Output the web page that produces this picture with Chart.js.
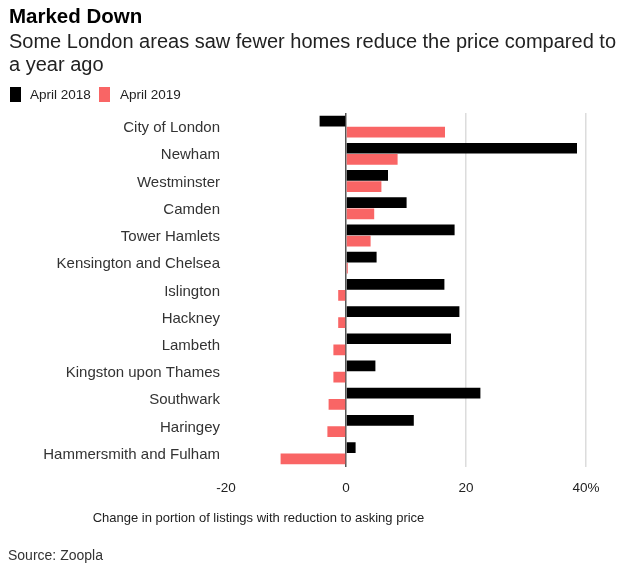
<!DOCTYPE html>
<html><head><meta charset="utf-8">
<script src="https://cdn.jsdelivr.net/npm/chart.js@4"></script>
<style>
html,body{margin:0;padding:0;background:#fff;}
#wrap{position:relative;width:635px;height:573px;font-family:"Liberation Sans",Arial,sans-serif;}
#wrap canvas{position:absolute;left:0;top:0;}
.t{position:absolute;white-space:nowrap;}
#title{left:9px;top:4px;font-size:20.5px;font-weight:bold;line-height:24px;color:#000;}
#sub{left:9px;top:30px;font-size:20px;line-height:23px;color:#222;}
.box{position:absolute;top:87px;width:11px;height:15px;}
.leg{top:87px;font-size:13.5px;line-height:16px;color:#222;}
#xtitle{left:258.5px;top:510px;transform:translateX(-50%);font-size:13px;line-height:16px;color:#222;}
#source{left:8px;top:547px;font-size:14px;line-height:16px;color:#333;}
</style></head>
<body>
<div id="wrap">
<canvas id="c" width="635" height="573"></canvas>
<div class="t" id="title">Marked Down</div>
<div class="t" id="sub">Some London areas saw fewer homes reduce the price compared to<br>a year ago</div>
<div class="box" id="b1" style="left:10px;"></div><div class="t leg" id="l1" style="left:30px;"></div>
<div class="box" id="b2" style="left:99px;"></div><div class="t leg" id="l2" style="left:120px;"></div>
<div class="t" id="xtitle">Change in portion of listings with reduction to asking price</div>
<div class="t" id="source">Source: Zoopla</div>
</div>
<script>
const categories = ["City of London","Newham","Westminster","Camden","Tower Hamlets","Kensington and Chelsea","Islington","Hackney","Lambeth","Kingston upon Thames","Southwark","Haringey","Hammersmith and Fulham"];
const april2018 = [-4.4, 38.5, 7.0, 10.1, 18.1, 5.1, 16.4, 18.9, 17.5, 4.9, 22.4, 11.3, 1.6];
const april2019 = [16.5, 8.6, 5.9, 4.7, 4.1, 0.3, -1.3, -1.3, -2.1, -2.1, -2.9, -3.1, -10.9];
const seriesNames = ['April 2018', 'April 2019'];
const seriesColors = ['#000000', '#f96565'];
const xTicks = [-20, 0, 20, 40];
const FONT = '"Liberation Sans", Arial, sans-serif';

document.getElementById('b1').style.background = seriesColors[0];
document.getElementById('b2').style.background = seriesColors[1];
document.getElementById('l1').textContent = seriesNames[0];
document.getElementById('l2').textContent = seriesNames[1];

Chart.defaults.font.family = FONT;
Chart.defaults.color = '#333';

new Chart(document.getElementById('c'), {
  type: 'bar',
  data: {
    labels: categories,
    datasets: [
      {label: seriesNames[0], data: april2018, backgroundColor: seriesColors[0]},
      {label: seriesNames[1], data: april2019, backgroundColor: seriesColors[1]}
    ]
  },
  options: {
    indexAxis: 'y',
    responsive: false,
    animation: false,
    categoryPercentage: 0.82,
    barPercentage: 0.96,
    layout: {padding: {left: 0, right: 49, top: 113, bottom: 64}},
    plugins: {
      title: {display: false},
      legend: {display: false},
      tooltip: {enabled: false}
    },
    scales: {
      x: {
        min: -20, max: 40,
        afterBuildTicks: (ax) => { ax.ticks = xTicks.map(v => ({value: v})); },
        grid: {drawTicks: false,
          color: (ctx) => ctx.tick && ctx.tick.value === 0 ? '#555' : (ctx.tick && ctx.tick.value === -20 ? 'rgba(0,0,0,0)' : '#dcdcdc'),
          lineWidth: 1.5},
        border: {display: false},
        ticks: {padding: 13, color: '#222', font: {size: 13.5}, callback: (v) => v === 40 ? '40%' : String(v)},
        title: {display: false}
      },
      y: {
        afterFit: (s) => { s.width = 226; },
        grid: {display: false, drawTicks: false},
        border: {display: false},
        ticks: {padding: 6, labelOffset: 1.5, color: '#333', font: {size: 15}}
      }
    }
  }
});
</script>
</body></html>
